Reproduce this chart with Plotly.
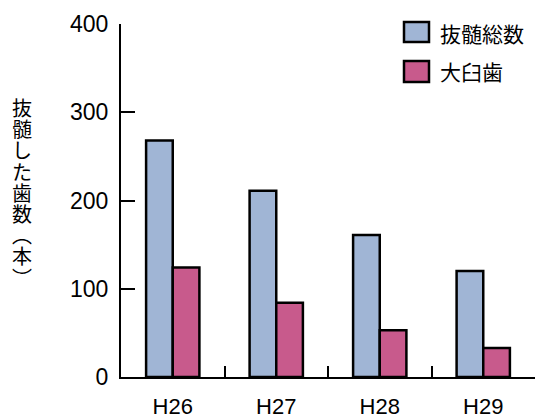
import plotly.graph_objects as go

# 年度別の抜髄歯数
years = ["H26", "H27", "H28", "H29"]
total_pulpectomy = [268, 211, 161, 120]   # 抜髄総数
molars = [124, 84, 53, 33]                # 大臼歯
y_ticks = [0, 100, 200, 300, 400]

series_names = ["抜髄総数", "大臼歯"]
series_colors = ["#A0B5D5", "#C85A8C"]
y_title = list("抜髄した歯数") + ["︵", "本", "︶"]

W, H = 536, 419
M = dict(l=121, r=1, t=24, b=42)
PW = W - M["l"] - M["r"]
PH = H - M["t"] - M["b"]

LATIN = "Liberation Sans, Arial, Helvetica, sans-serif"
CJK = "Noto Sans CJK JP, sans-serif"


def px_x(px):
    return (px - M["l"]) / PW


def px_y(py):
    return (H - M["b"] - py) / PH


fig = go.Figure()
for name, vals, col in zip(series_names, [total_pulpectomy, molars], series_colors):
    fig.add_trace(go.Bar(
        x=years, y=vals, name=name,
        marker=dict(color=col, line=dict(color="black", width=2.5)),
        showlegend=False,
    ))

# 凡例（四角の色見本と文字）
shapes = []
annotations = []
legend_rows = [(22, 42, 32.5), (61, 82, 70.5)]
for (top, bot, mid), name, col in zip(legend_rows, series_names, series_colors):
    shapes.append(dict(
        type="rect", xref="paper", yref="paper",
        x0=px_x(404), x1=px_x(429), y0=px_y(bot), y1=px_y(top),
        fillcolor=col, line=dict(color="black", width=2.5),
    ))
    annotations.append(dict(
        text=name, xref="paper", yref="paper",
        x=px_x(438), y=px_y(mid), xanchor="left", yanchor="middle",
        showarrow=False, font=dict(family=CJK, size=21, color="black"),
    ))

# 縦書きの軸タイトル：行送りは外側の文字サイズ、字形は span で大きめに
title_text = "<br>".join(f'<span style="font-size:20px">{ch}</span>' for ch in y_title)
annotations.append(dict(
    text=title_text, xref="paper", yref="paper",
    x=px_x(22), y=px_y(192), xanchor="center", yanchor="middle",
    showarrow=False, align="center",
    font=dict(family=CJK, size=16.3, color="black"),
))

fig.update_layout(
    width=W, height=H, margin=M,
    paper_bgcolor="white", plot_bgcolor="white",
    barmode="group", bargap=0.485, bargroupgap=0,
    shapes=shapes, annotations=annotations,
    font=dict(family=LATIN, size=23, color="black"),
)
fig.update_xaxes(
    type="category", range=[-0.5, 3.5], automargin=False,
    showline=True, linecolor="black", linewidth=2,
    ticks="inside", tickson="boundaries", ticklen=11, tickwidth=2, tickcolor="black",
    showgrid=False, zeroline=False,
    tickfont=dict(family=LATIN, size=22, color="black"),
    ticklabelstandoff=9,
)
fig.update_yaxes(
    range=[0, 400], tickvals=y_ticks, ticktext=[str(v) for v in y_ticks],
    automargin=False,
    showline=True, linecolor="black", linewidth=2,
    ticks="inside", ticklen=14, tickwidth=2, tickcolor="black",
    showgrid=False, zeroline=False,
    tickfont=dict(family=LATIN, size=23, color="black"),
    ticklabelstandoff=6,
)

fig.write_html("out.html")
